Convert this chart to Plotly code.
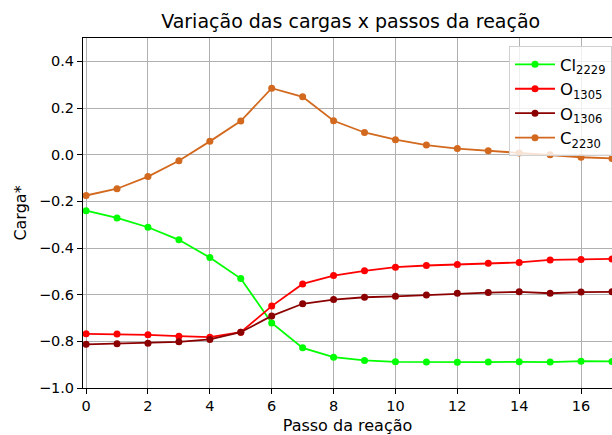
import plotly.graph_objects as go

steps = list(range(18))
cl_2229 = [-0.240, -0.271, -0.311, -0.365, -0.441, -0.531, -0.721, -0.828, -0.868,
           -0.882, -0.888, -0.889, -0.890, -0.889, -0.888, -0.889, -0.885, -0.886]
o_1305 = [-0.768, -0.769, -0.772, -0.778, -0.782, -0.761, -0.649, -0.554, -0.518,
          -0.498, -0.482, -0.475, -0.471, -0.465, -0.462, -0.451, -0.449, -0.447]
o_1306 = [-0.813, -0.810, -0.808, -0.802, -0.792, -0.761, -0.691, -0.639, -0.621,
          -0.611, -0.607, -0.601, -0.594, -0.591, -0.588, -0.594, -0.589, -0.588]
c_2230 = [-0.175, -0.146, -0.094, -0.026, 0.057, 0.144, 0.285, 0.248, 0.145,
          0.095, 0.064, 0.041, 0.026, 0.017, 0.007, 0.000, -0.011, -0.016]

series = [
    ("Cl<sub>2229</sub>", cl_2229, "#00ff00"),
    ("O<sub>1305</sub>", o_1305, "#ff0000"),
    ("O<sub>1306</sub>", o_1306, "#8b0000"),
    ("C<sub>2230</sub>", c_2230, "#d2691e"),
]

fig = go.Figure()
for name, vals, color in series:
    fig.add_trace(go.Scatter(
        x=steps, y=vals, name=name, mode="lines+markers",
        line=dict(color=color, width=1.8),
        marker=dict(color=color, size=7),
    ))

font = "DejaVu Sans, sans-serif"
fig.update_layout(
    width=612, height=435,
    margin=dict(l=83, r=0, t=38, b=47),
    paper_bgcolor="white", plot_bgcolor="white",
    font=dict(family=font, size=14.5, color="black"),
    title=dict(text="Variação das cargas x passos da reação", x=0.573, xanchor="center",
               y=0.951, yanchor="middle", font=dict(size=19, family=font)),
    legend=dict(x=1.0, xanchor="right", y=0.977, yanchor="top",
                bgcolor="rgba(255,255,255,0.8)", bordercolor="#d0d0d0", borderwidth=1,
                font=dict(size=16.5, family=font), tracegroupgap=0, itemwidth=40),
    showlegend=True,
)
fig.update_xaxes(
    range=[-0.1, 17.0], tickmode="array", tickvals=list(range(0, 18, 2)),
    showgrid=True, gridcolor="#b0b0b0", gridwidth=1,
    showline=True, linecolor="black", linewidth=1, mirror=True,
    ticks="outside", ticklen=5, tickcolor="black", zeroline=False,
    title=dict(text="Passo da reação", font=dict(size=16, family=font), standoff=6),
)
fig.update_yaxes(
    range=[-1.0, 0.5], tickmode="array", tickvals=[-1.0, -0.8, -0.6, -0.4, -0.2, 0.0, 0.2, 0.4],
    tickformat=".1f",
    showgrid=True, gridcolor="#b0b0b0", gridwidth=1,
    showline=True, linecolor="black", linewidth=1, mirror=True,
    ticks="outside", ticklen=5, tickcolor="black", zeroline=False,
    title=dict(text="Carga*", font=dict(size=16, family=font), standoff=8),
)

fig.write_html("out.html")
